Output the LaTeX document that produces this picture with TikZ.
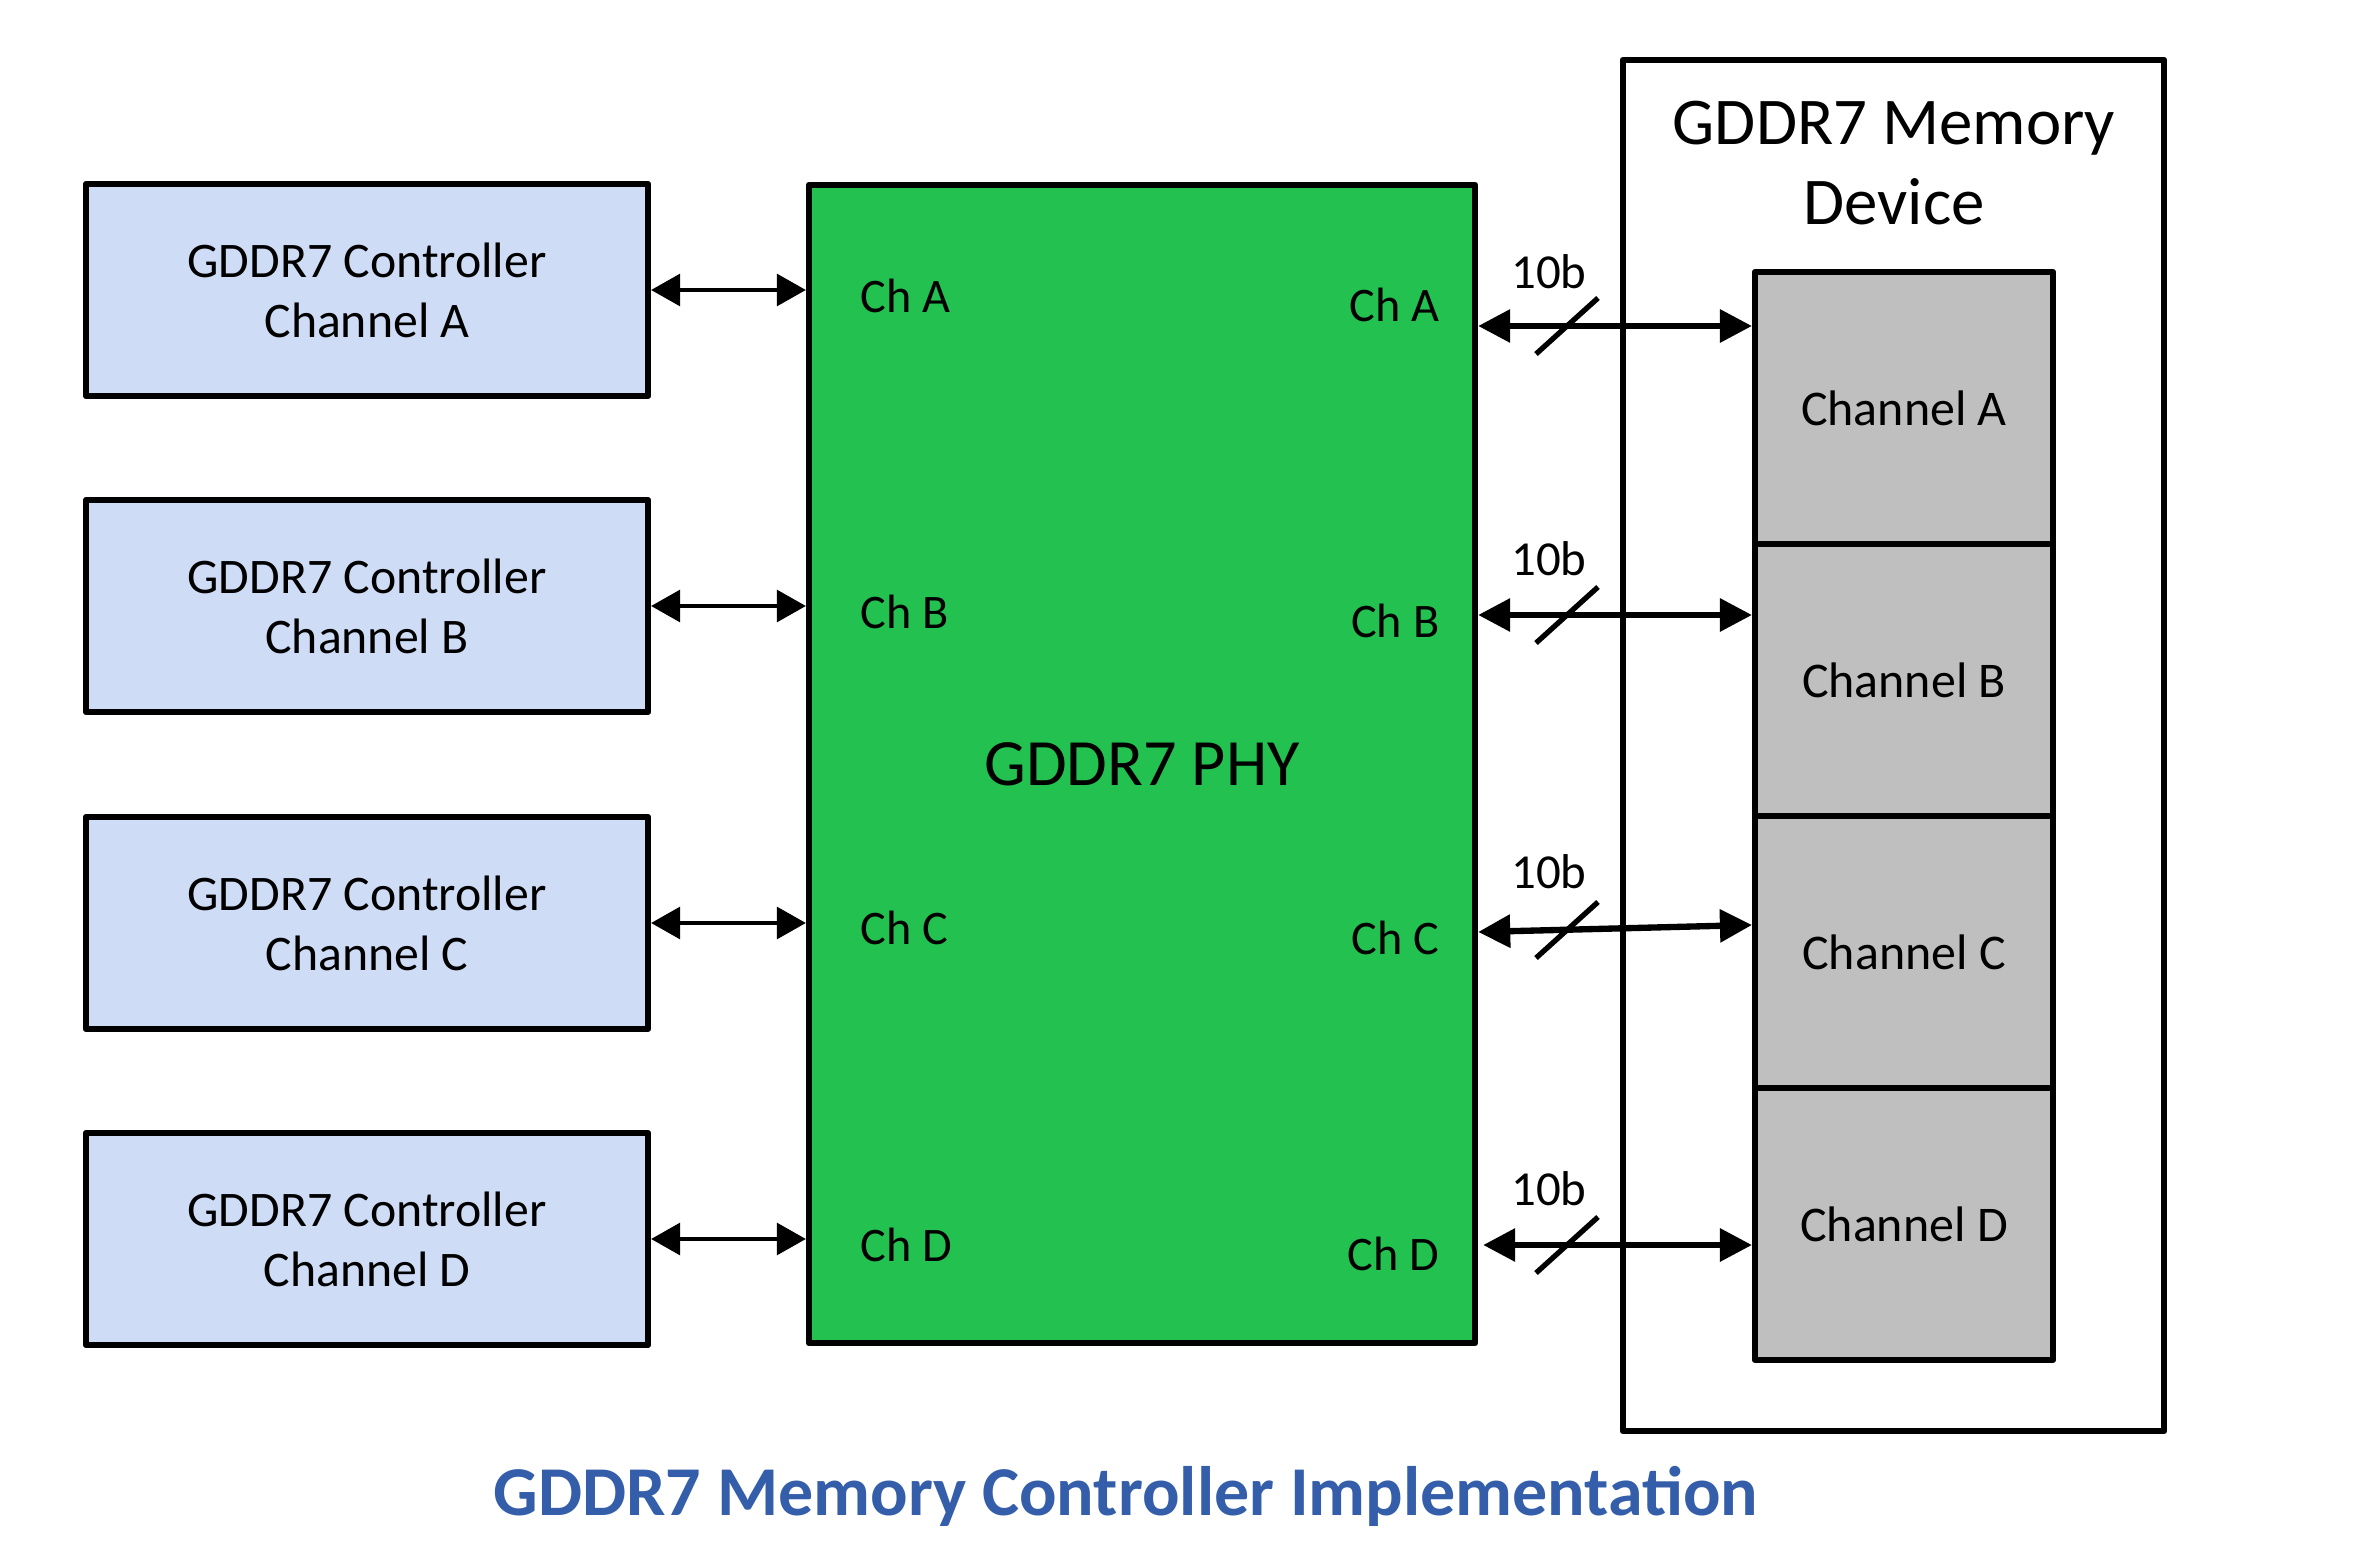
\documentclass[tikz,border=0pt]{standalone}
\usepackage{fontspec}
\setmainfont{Carlito}
\usetikzlibrary{arrows.meta}
\definecolor{ctrlblue}{RGB}{207,220,245}
\definecolor{phygreen}{RGB}{34,193,80}
\definecolor{chgray}{RGB}{191,191,191}
\definecolor{capblue}{RGB}{52,94,170}
\begin{document}
\begin{tikzpicture}[x=0.01cm,y=-0.01cm,
  box/.style={draw=black, line width=1.7pt, rectangle, inner sep=0pt, line join=round},
  ctrl/.style={box, fill=ctrlblue, minimum width=5.62cm, minimum height=2.12cm, align=center,
    font=\fontsize{14.15pt}{17.1pt}\selectfont},
  phybox/.style={box, fill=phygreen, minimum width=6.66cm, minimum height=11.58cm,
    font=\fontsize{18.8pt}{22.5pt}\selectfont},
  devbox/.style={box, fill=white, minimum width=5.41cm, minimum height=13.71cm},
  chanbox/.style={box, fill=chgray, minimum width=2.98cm, minimum height=2.72cm,
    font=\fontsize{14.2pt}{17.1pt}\selectfont},
  devtitle/.style={align=center, inner sep=0pt, font=\fontsize{19pt}{22.5pt}\selectfont},
  chlbl/.style={inner sep=0pt, font=\fontsize{13.7pt}{16pt}\selectfont},
  buslbl/.style={inner sep=0pt, font=\fontsize{13.9pt}{16pt}\selectfont},
  caption/.style={inner sep=0pt, text=capblue, font=\fontsize{19.9pt}{23pt}\selectfont\bfseries},
  bw/.style={line width=0.9pt, {Triangle[length=0.29cm,width=0.32cm]}-{Triangle[length=0.29cm,width=0.32cm]}},
  bus/.style={line width=1.8pt, {Triangle[length=0.32cm,width=0.32cm]}-{Triangle[length=0.32cm,width=0.32cm]}},
  slash/.style={line width=1.5pt}
]
\useasboundingbox (0,0) rectangle (2369,1561);

% controllers
\node[ctrl] (ca) at (367,290) {GDDR7 Controller\\Channel A};
\node[ctrl] (cb) at (367,606) {GDDR7 Controller\\Channel B};
\node[ctrl] (cc) at (367,923) {GDDR7 Controller\\Channel C};
\node[ctrl] (cd) at (367,1239) {GDDR7 Controller\\Channel D};

% PHY
\node[phybox] (phy) at (1142,764) {GDDR7 PHY};

% memory device
\node[devbox] (dev) at (1893.5,745.5) {};
\node[devtitle] (devt) at (1894,163) {GDDR7 Memory\\Device};
\node[chanbox] (cha) at (1904,408) {Channel A};
\node[chanbox] (chb) at (1904,680) {Channel B};
\node[chanbox] (chc) at (1904,952) {Channel C};
\node[chanbox] (chd) at (1904,1224) {Channel D};

% PHY labels
\node[chlbl, anchor=west] (pla) at (860,296) {Ch A};
\node[chlbl, anchor=west] (plb) at (860,612) {Ch B};
\node[chlbl, anchor=west] (plc) at (860,928) {Ch C};
\node[chlbl, anchor=west] (pld) at (860,1245) {Ch D};
\node[chlbl, anchor=east] (pra) at (1440,305) {Ch A};
\node[chlbl, anchor=east] (prb) at (1440,621) {Ch B};
\node[chlbl, anchor=east] (prc) at (1440,938) {Ch C};
\node[chlbl, anchor=east] (prd) at (1440,1254) {Ch D};

% controller <-> PHY
\draw[bw] (ca.east) -- (ca.east -| phy.west);
\draw[bw] (cb.east) -- (cb.east -| phy.west);
\draw[bw] (cc.east) -- (cc.east -| phy.west);
\draw[bw] (cd.east) -- (cd.east -| phy.west);

% PHY <-> memory channels
\draw[bus] (phy.east |- 0,326) -- (cha.west |- 0,326);
\draw[bus] (phy.east |- 0,615) -- (chb.west |- 0,615);
\draw[bus] (phy.east |- 0,932) -- (chc.west |- 0,925);
\draw[bus] ([xshift=0.05cm]phy.east |- 0,1245) -- (chd.west |- 0,1245);

% bus width marks
\draw[slash, shift={(1567,326)}] (-31,28) -- (31,-28);
\draw[slash, shift={(1567,615)}] (-31,28) -- (31,-28);
\draw[slash, shift={(1567,930)}] (-31,28) -- (31,-28);
\draw[slash, shift={(1567,1245)}] (-31,28) -- (31,-28);
\node[buslbl] (wa) at (1549,272) {10b};
\node[buslbl] (wb) at (1549,559) {10b};
\node[buslbl] (wc) at (1549,872) {10b};
\node[buslbl] (wd) at (1549,1189) {10b};

% caption
\node[caption] (cap) at (1126,1496) {GDDR7 Memory Controller Implementation};
\end{tikzpicture}
\end{document}
